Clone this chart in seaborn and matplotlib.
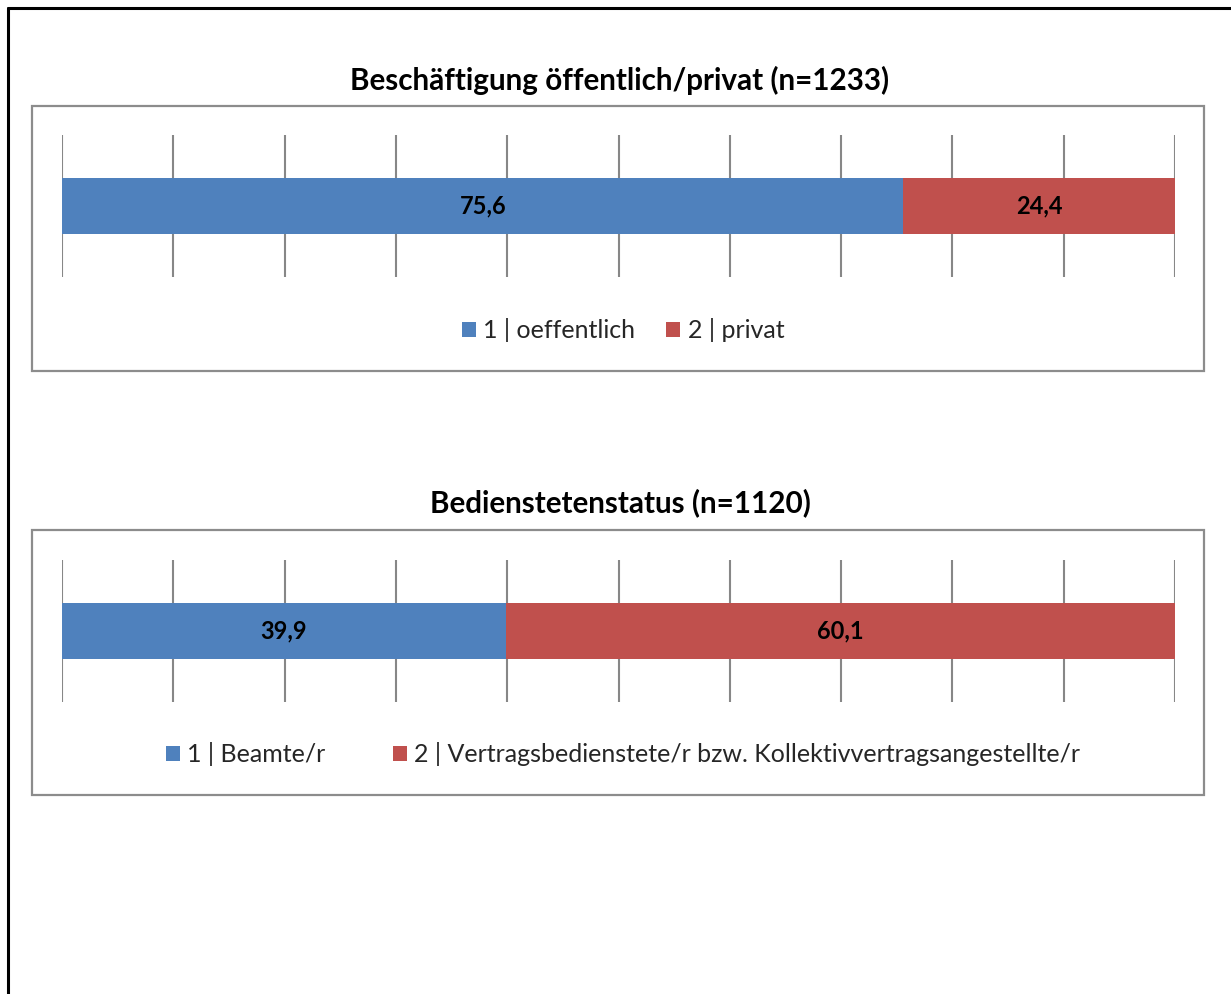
import matplotlib
matplotlib.use("Agg")
import matplotlib.pyplot as plt
from matplotlib.patches import Rectangle
from matplotlib.lines import Line2D
import seaborn as sns
import pandas as pd

# ---- data -------------------------------------------------------------
titles = ["Beschäftigung öffentlich/privat (n=1233)", "Bedienstetenstatus (n=1120)"]
labels_1 = ["1 | oeffentlich", "2 | privat"]
values_1 = [75.6, 24.4]
labels_2 = ["1 | Beamte/r", "2 | Vertragsbedienstete/r bzw. Kollektivvertragsangestellte/r"]
values_2 = [39.9, 60.1]
ticks = list(range(0, 101, 10))

BLUE = "#4F81BD"
RED = "#C0504D"
GRID = "#878787"
BOX = "#8C8C8C"

sns.set_theme(style="white")
plt.rcParams["font.family"] = ["Lato", "DejaVu Sans"]

W, H = 1231, 994
fig = plt.figure(figsize=(W / 100, H / 100), dpi=100)


def fx(px):
    return px / W


def fy(py):
    return 1 - py / H


# outer frame (left and top edges visible)
fig.add_artist(Line2D([fx(8), fx(8)], [fy(8), 0], color="black", lw=2.2, transform=fig.transFigure))
fig.add_artist(Line2D([fx(8), 1], [fy(8), fy(8)], color="black", lw=2.2, transform=fig.transFigure))

panels = [
    dict(title=titles[0], labels=labels_1, values=values_1, title_y=80, box=(106, 371),
         axes=(135, 277), legend_y=330, colsp=1.25),
    dict(title=titles[1], labels=labels_2, values=values_2, title_y=503, box=(530, 795),
         axes=(560, 702), legend_y=754, colsp=2.7),
]

for p in panels:
    # panel frame
    b0, b1 = p["box"]
    fig.add_artist(Rectangle((fx(32), fy(b1)), fx(1204) - fx(32), fy(b0) - fy(b1),
                             transform=fig.transFigure, fill=False, edgecolor=BOX, lw=1.6))
    fig.text(fx(620), fy(p["title_y"]), p["title"], ha="center", va="center",
             fontsize=21.3, fontweight="bold", color="black")

    a0, a1 = p["axes"]
    ax = fig.add_axes([fx(62), fy(a1), fx(1175) - fx(62), fy(a0) - fy(a1)])

    vals = p["values"]
    cum = pd.Series(vals).cumsum().tolist()
    df = pd.DataFrame({"cat": ["", ""], "end": cum, "seg": p["labels"]})

    # stacked bar: full-length segment underneath, first segment on top
    sns.barplot(data=df.iloc[[1]], x="end", y="cat", orient="h", color=RED,
                width=0.4, saturation=1, ax=ax, zorder=3, linewidth=0,
                label=p["labels"][1])
    sns.barplot(data=df.iloc[[0]], x="end", y="cat", orient="h", color=BLUE,
                width=0.4, saturation=1, ax=ax, zorder=3, linewidth=0,
                label=p["labels"][0])

    for t in ticks:
        ax.axvline(t, color=GRID, lw=1.5, zorder=1)

    starts = [0] + cum[:-1]
    for s, v in zip(starts, vals):
        ax.text(s + v / 2, 0, f"{v:.1f}".replace(".", ","), ha="center", va="center",
                fontsize=17, fontweight="bold", color="black", zorder=5)

    ax.set_xlim(0, 100)
    ax.set_ylim(0.5, -0.5)
    ax.set_xlabel("")
    ax.set_ylabel("")
    ax.set_xticks([])
    ax.set_yticks([])
    for sp in ax.spines.values():
        sp.set_visible(False)

    handles = [ax.containers[1], ax.containers[0]]
    ax.legend(handles, p["labels"], loc="center", bbox_to_anchor=(fx(623), fy(p["legend_y"])),
              bbox_transform=fig.transFigure, ncol=2, frameon=False, fontsize=18,
              handlelength=0.56, handleheight=0.56, handletextpad=0.3,
              columnspacing=p["colsp"], borderpad=0)

fig.savefig("out.png", dpi=100, facecolor="white")
